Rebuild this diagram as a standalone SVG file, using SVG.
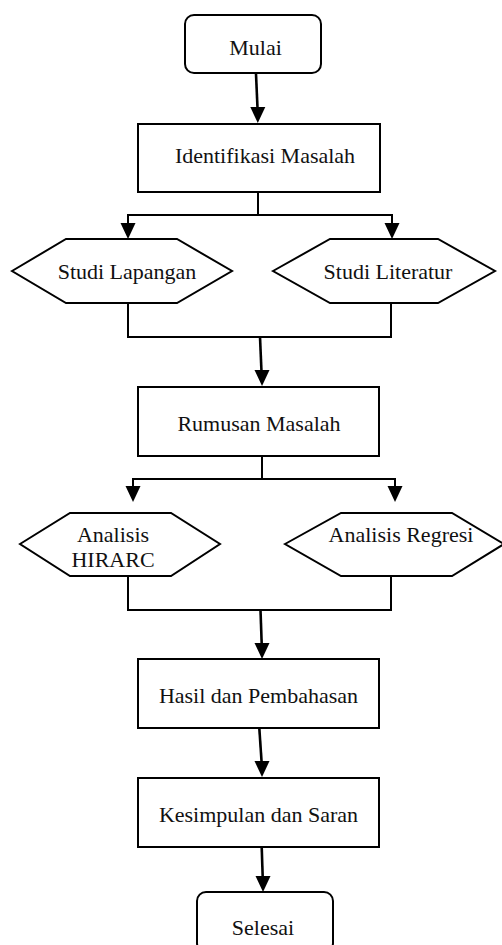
<svg xmlns="http://www.w3.org/2000/svg" xmlns:xlink="http://www.w3.org/1999/xlink" width="502" height="945" viewBox="0 0 502 945">
<style>
.shape{fill:#fff;stroke:#000;stroke-width:2}
.lbl{font-family:"Liberation Serif","Times New Roman",serif;font-size:22px;fill:#111;text-anchor:middle}
.con{fill:none;stroke:#000;stroke-width:2}
.arr{fill:none;stroke:#000;stroke-width:2.6}
.head{fill:#000}
</style>
<defs>
<path id="ah" d="M-7.5,-16 L7.5,-16 L0,0 Z"/>
</defs>
<rect width="502" height="945" fill="#fff"/>
<g id="connectors">
<line class="arr" x1="256" y1="74" x2="257.6" y2="110"/>
<use xlink:href="#ah" class="head" x="257.8" y="123"/>
<polyline class="con" points="258,192 258,215"/>
<polyline class="con" points="128,228 128,215 392,215 392,228"/>
<use xlink:href="#ah" class="head" x="128" y="239"/>
<use xlink:href="#ah" class="head" x="392" y="239"/>
<polyline class="con" points="128,303 128,337 391,337 391,303"/>
<line class="arr" x1="260" y1="337" x2="261.6" y2="374"/>
<use xlink:href="#ah" class="head" x="262" y="386"/>
<polyline class="con" points="262,456 262,479"/>
<polyline class="con" points="133,491 133,479 395,479 395,491"/>
<use xlink:href="#ah" class="head" x="133" y="502"/>
<use xlink:href="#ah" class="head" x="395" y="502"/>
<polyline class="con" points="128,576 128,610 391,610 391,576"/>
<line class="arr" x1="260.5" y1="610" x2="261.8" y2="647"/>
<use xlink:href="#ah" class="head" x="262" y="659"/>
<line class="arr" x1="259.3" y1="728" x2="261.8" y2="765"/>
<use xlink:href="#ah" class="head" x="262" y="777"/>
<line class="arr" x1="261.7" y1="847" x2="262.8" y2="880"/>
<use xlink:href="#ah" class="head" x="263" y="892"/>
</g>
<g id="mulai">
<rect class="shape" x="185" y="15" width="136" height="58" rx="9"/>
<text class="lbl" x="255.5" y="55">Mulai</text>
</g>
<g id="identifikasi">
<rect class="shape" x="138" y="124" width="242" height="68"/>
<text class="lbl" x="265" y="163">Identifikasi Masalah</text>
</g>
<g id="studi-lapangan">
<polygon class="shape" points="12,271 66,239 177,239 232,271 177,303 66,303"/>
<text class="lbl" x="127" y="279">Studi Lapangan</text>
</g>
<g id="studi-literatur">
<polygon class="shape" points="273,271 330,239 438,239 495,271 438,303 330,303"/>
<text class="lbl" x="388" y="279">Studi Literatur</text>
</g>
<g id="rumusan">
<rect class="shape" x="138" y="387" width="241" height="69"/>
<text class="lbl" x="259" y="430.5">Rumusan Masalah</text>
</g>
<g id="analisis-hirarc">
<polygon class="shape" points="20,544 70,513 171,513 220,544 171,576 70,576"/>
<text class="lbl" x="113" y="542">Analisis</text>
<text class="lbl" x="113" y="567">HIRARC</text>
</g>
<g id="analisis-regresi">
<polygon class="shape" points="285,544 341,513 452,513 504,544 452,576 341,576"/>
<text class="lbl" x="401" y="542">Analisis Regresi</text>
</g>
<g id="hasil">
<rect class="shape" x="138" y="659" width="241" height="69"/>
<text class="lbl" x="258.5" y="703">Hasil dan Pembahasan</text>
</g>
<g id="kesimpulan">
<rect class="shape" x="138" y="778" width="241" height="69"/>
<text class="lbl" x="258.5" y="822">Kesimpulan dan Saran</text>
</g>
<g id="selesai">
<rect class="shape" x="197" y="892" width="136" height="60" rx="9"/>
<text class="lbl" x="263" y="935">Selesai</text>
</g>
</svg>
